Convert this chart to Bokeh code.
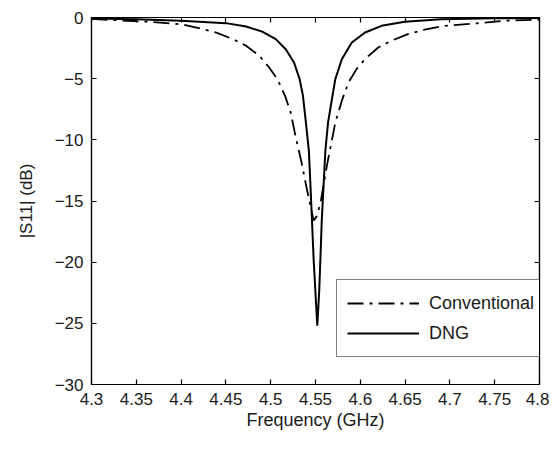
from bokeh.plotting import figure
from bokeh.models import LinearAxis, FixedTicker, Range1d, Legend, LegendItem
from bokeh.embed import file_html
from bokeh.resources import INLINE

# ---- data ----
freq_dng = [4.30, 4.35, 4.40, 4.45, 4.4726, 4.491, 4.5057, 4.5168, 4.526, 4.5323,
            4.536, 4.5393, 4.5426, 4.5446, 4.548, 4.552, 4.5542, 4.557, 4.561, 4.564,
            4.5677, 4.5721, 4.5794, 4.5905, 4.6053, 4.6237, 4.6496, 4.69, 4.75, 4.80]
s11_dng = [-0.08, -0.15, -0.27, -0.46, -0.74, -1.17, -1.77, -2.59, -3.68, -5.04,
           -6.4, -8.6, -10.9, -14.1, -19.9, -25.2, -22.3, -16.6, -10.9, -8.6,
           -6.95, -5.04, -3.41, -2.04, -1.23, -0.68, -0.35, -0.14, -0.06, -0.04]

freq_conv = [4.30, 4.364, 4.40, 4.421, 4.4394, 4.4577, 4.4726, 4.4873, 4.4983, 4.5075,
             4.516, 4.5223, 4.528, 4.534, 4.540, 4.545, 4.548, 4.551, 4.5555, 4.563,
             4.5721, 4.5794, 4.5868, 4.596, 4.6071, 4.62, 4.6347, 4.6532, 4.6717, 4.6938,
             4.731, 4.76, 4.80]
s11_conv = [-0.12, -0.35, -0.55, -0.9, -1.23, -1.77, -2.31, -3.13, -4.09, -5.04,
            -6.4, -7.77, -9.8, -11.7, -13.9, -15.6, -16.6, -16.3, -15.2, -12.0,
            -8.6, -6.8, -5.3, -4.2, -3.27, -2.45, -1.9, -1.36, -1.0, -0.68,
            -0.47, -0.27, -0.18]

x_ticks = [4.3, 4.35, 4.4, 4.45, 4.5, 4.55, 4.6, 4.65, 4.7, 4.75, 4.8]
y_ticks = [0, -5, -10, -15, -20, -25, -30]

FONT = "Liberation Sans"
TXT = "#1a1a1a"

p = figure(width=549, height=435, output_backend="svg", toolbar_location=None,
           x_range=Range1d(4.3, 4.8), y_range=Range1d(-30, 0),
           min_border_left=91, min_border_right=10, min_border_top=17, min_border_bottom=51,
           x_axis_label="Frequency (GHz)", y_axis_label="|S11| (dB)")
p.xgrid.visible = False
p.ygrid.visible = False
p.outline_line_color = "black"
p.outline_line_width = 1.2

r_conv = p.line(freq_conv, s11_conv, line_color="black", line_width=1.8, line_dash="16 6 3 6")
r_dng = p.line(freq_dng, s11_dng, line_color="black", line_width=2)

def style_axis(ax, ticks, labels=True):
    ax.ticker = FixedTicker(ticks=ticks)
    ax.major_tick_in = 5
    ax.major_tick_out = 0
    ax.minor_tick_in = 0
    ax.minor_tick_out = 0
    ax.axis_line_color = "black"
    ax.axis_line_width = 1.2
    ax.major_tick_line_color = "black"
    ax.major_tick_line_width = 1.2
    ax.major_label_text_font = FONT
    ax.major_label_text_font_size = "17px"
    ax.major_label_text_color = TXT
    ax.axis_label_text_font = FONT
    ax.axis_label_text_font_style = "normal"
    ax.axis_label_text_color = TXT
    if not labels:
        ax.major_label_overrides = {t: "" for t in ticks}
        ax.major_label_standoff = 0

xa = p.xaxis[0]
style_axis(xa, x_ticks)
xa.major_label_overrides = {t: ("%g" % t) for t in x_ticks}
xa.major_label_standoff = 8
xa.axis_label_standoff = 2
xa.axis_label_text_font_size = "18px"

ya = p.yaxis[0]
style_axis(ya, y_ticks)
ya.major_label_overrides = {t: ("%d" % t).replace("-", "\u2212") for t in y_ticks}
ya.major_label_standoff = 8
ya.axis_label_standoff = 16
ya.axis_label_text_font_size = "17px"

top = LinearAxis()
style_axis(top, x_ticks, labels=False)
p.add_layout(top, "above")
right = LinearAxis()
style_axis(right, y_ticks, labels=False)
p.add_layout(right, "right")

legend = Legend(items=[LegendItem(label="Conventional", renderers=[r_conv]),
                       LegendItem(label="DNG", renderers=[r_dng])],
                location=(245, 27))
legend.border_line_color = "black"
legend.border_line_width = 1.2
legend.background_fill_color = "white"
legend.background_fill_alpha = 1
legend.label_text_font = FONT
legend.label_text_font_size = "18px"
legend.label_text_color = TXT
legend.glyph_width = 72
legend.glyph_height = 26
legend.label_height = 26
legend.label_width = 110
legend.label_standoff = 10
legend.spacing = 4
legend.padding = 10
legend.margin = 0
p.add_layout(legend, "center")

open("out.html", "w").write(file_html(p, INLINE))
